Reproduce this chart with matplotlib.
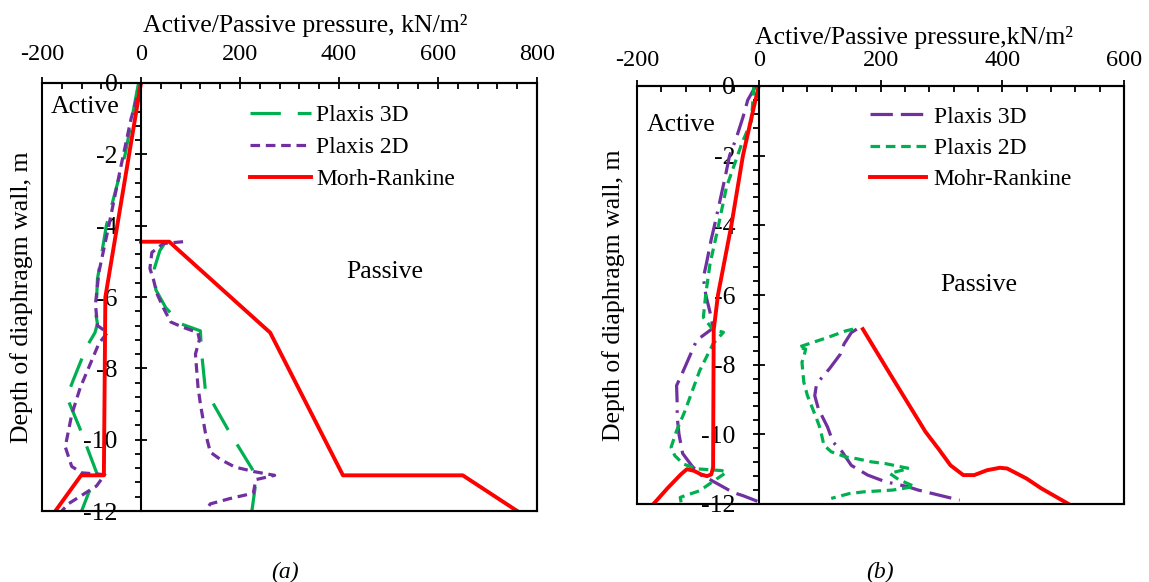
import numpy as np
import matplotlib.pyplot as plt
from matplotlib.ticker import MultipleLocator
from matplotlib.patches import Rectangle

plt.rcParams["font.family"] = "Liberation Serif"
plt.rcParams["axes.unicode_minus"] = False
plt.rcParams["font.size"] = 18.5

# ---- panel (a) ----  pressure (kN/m2) vs depth (m)
a_mr_act_x = [0, -72, -75, -121, -173]
a_mr_act_y = [0, -6, -11, -11, -12]
a_mr_pas_x = [0, 57, 261, 408, 650, 760]
a_mr_pas_y = [-4.45, -4.45, -7, -11, -11, -12]

a_3d_act_x = [-5, -32, -70, -88, -91, -88, -93, -110, -136, -150, -123, -89, -106, -120]
a_3d_act_y = [0, -2, -4, -5.5, -6.5, -6.75, -7, -7.4, -8.3, -8.8, -9.7, -10.95, -11.5, -12]
a_3d_pas_x = [50, 38, 27, 30, 50, 80, 120, 122, 130, 175, 228, 232, 224]
a_3d_pas_y = [-4.45, -4.7, -5.2, -5.8, -6.3, -6.75, -6.95, -7.5, -8.6, -9.7, -10.9, -11.2, -12]

a_2d_act_x = [0, -20, -40, -65, -85, -92, -88, -68, -85, -123, -140, -153, -140, -120, -73, -90, -147, -160]
a_2d_act_y = [0, -1, -2.3, -4, -5.3, -6.2, -6.8, -7, -7.3, -8.55, -9.3, -10.2, -10.75, -10.93, -10.98, -11.3, -11.8, -12]
a_2d_pas_x = [85, 45, 22, 18, 25, 32, 45, 60, 85, 115, 118, 110, 115, 120, 130, 140, 160, 190, 230, 270, 232, 227, 180, 140, 130]
a_2d_pas_y = [-4.45, -4.5, -4.75, -5.2, -5.5, -5.9, -6.3, -6.7, -6.85, -7.0, -7.2, -7.6, -8.5, -9.0, -9.8, -10.35, -10.55, -10.77, -10.9, -11.0, -11.12, -11.5, -11.65, -11.8, -12]

# ---- panel (b) ----
b_mr_act_x = [0, -8, -26, -45, -67, -74, -75, -78, -85, -95, -106, -118, -128, -150, -173]
b_mr_act_y = [0, -0.6, -2, -4, -6, -7, -10.95, -11.15, -11.2, -11.15, -11.05, -11.0, -11.15, -11.55, -12]
b_mr_pas_x = [171, 214, 274, 295, 315, 336, 354, 375, 396, 408, 440, 464, 509]
b_mr_pas_y = [-6.98, -8.22, -9.93, -10.41, -10.89, -11.17, -11.17, -11.03, -10.96, -10.98, -11.27, -11.55, -12]

b_3d_act_x = [-5, -18, -26, -37, -48, -55, -72, -78, -86, -91, -87, -80, -75, -102, -113, -127, -135, -134, -134, -131, -125, -110, -97, -80, -42, -26, 2]
b_3d_act_y = [0, -0.4, -0.9, -1.5, -2.0, -2.6, -3.95, -4.4, -5.1, -5.5, -6.0, -6.5, -6.95, -7.3, -7.74, -8.3, -8.6, -9.1, -9.5, -10.0, -10.55, -10.9, -11.15, -11.3, -11.67, -11.76, -11.95]
b_3d_pas_x = [161, 152, 140, 134, 116, 95, 92, 98, 113, 122, 137, 152, 179, 208, 244, 262, 330]
b_3d_pas_y = [-6.98, -7.08, -7.41, -7.7, -8.12, -8.55, -8.89, -9.27, -9.79, -10.22, -10.5, -10.89, -11.17, -11.36, -11.5, -11.6, -11.89]

b_2d_act_x = [-8, -12, -28, -53, -69, -80, -87, -91, -75, -58, -75, -97, -121, -135, -144, -138, -124, -102, -61, -53, -75, -97, -121, -129, -127]
b_2d_act_y = [0, -1, -1.66, -2.9, -4.24, -5.1, -5.97, -6.64, -7.0, -7.07, -7.4, -8.17, -9.32, -9.9, -10.37, -10.61, -10.85, -10.99, -11.04, -11.09, -11.35, -11.62, -11.76, -11.81, -12]
b_2d_pas_x = [155, 143, 113, 89, 65, 77, 74, 71, 74, 80, 95, 101, 107, 119, 143, 161, 185, 208, 247, 215, 230, 256, 220, 173, 149, 119]
b_2d_pas_y = [-6.98, -7.03, -7.22, -7.36, -7.5, -7.55, -7.79, -7.93, -8.5, -8.89, -9.55, -9.84, -10.31, -10.5, -10.65, -10.7, -10.79, -10.84, -10.98, -11.12, -11.3, -11.5, -11.6, -11.65, -11.7, -11.84]

GREEN = "#00B050"
PURPLE = "#7030A0"
RED = "#FF0000"


def style(ax, xmax, xpad):
    ax.set_xlim(-200, xmax)
    ax.set_ylim(-12, 0)
    ax.xaxis.tick_top()
    ax.xaxis.set_label_position("top")
    ax.set_xticks(np.arange(-200, xmax + 1, 200))
    ax.xaxis.set_minor_locator(MultipleLocator(40))
    ax.set_yticks(np.arange(-12, 1, 2))
    ax.yaxis.set_minor_locator(MultipleLocator(0.4))
    ax.spines["left"].set_position(("data", 0))
    for s in ax.spines.values():
        s.set_linewidth(1.5)
    ax.add_patch(Rectangle((0, 0), 1, 1, transform=ax.transAxes, fill=False,
                           lw=1.5, clip_on=False, zorder=5))
    ax.tick_params(axis="x", which="major", direction="inout", length=9, width=1.3,
                   pad=xpad, labelsize=17.5)
    ax.tick_params(axis="x", which="minor", direction="in", length=4, width=1.3)
    ax.tick_params(axis="y", which="major", direction="inout", length=8, width=1.3, pad=13)
    ax.tick_params(axis="y", which="minor", direction="out", length=4, width=1.3)


fig = plt.figure(figsize=(11.49, 5.82), dpi=100)
ax1 = fig.add_axes([42 / 1149, 1 - 511 / 582, 495 / 1149, 428 / 582])
ax2 = fig.add_axes([637 / 1149, 1 - 504 / 582, 487 / 1149, 418 / 582])

# (a)
long_dash = (0, (9.5, 5.3))
short_dash = (0, (3, 1.8))
ax1.plot(a_3d_act_x, a_3d_act_y, color=GREEN, lw=2.3, ls=long_dash, label="Plaxis 3D")
ax1.plot(a_3d_pas_x, a_3d_pas_y, color=GREEN, lw=2.3, ls=long_dash)
ax1.plot(a_2d_act_x, a_2d_act_y, color=PURPLE, lw=2.3, ls=short_dash, label="Plaxis 2D")
ax1.plot(a_2d_pas_x, a_2d_pas_y, color=PURPLE, lw=2.3, ls=short_dash)
ax1.plot(a_mr_act_x, a_mr_act_y, color=RED, lw=2.8, label="Morh-Rankine")
ax1.plot(a_mr_pas_x, a_mr_pas_y, color=RED, lw=2.8)
style(ax1, 800, 8.5)
ax1.set_xlabel("Active/Passive pressure, kN/m\u00b2")
ax1.xaxis.set_label_coords(0.531, 1.118)
ax1.set_ylabel("Depth of diaphragm wall, m")
ax1.yaxis.set_label_coords(-0.018, 0.5)
ax1.text(-182, -0.66, "Active", va="center", ha="left")
ax1.text(493, -5.29, "Passive", va="center", ha="center")
ax1.legend(loc="upper left", bbox_to_anchor=(0.42, 0.949), frameon=False, fontsize=17,
           handlelength=2.6, handletextpad=0.2, labelspacing=0.44, borderpad=0,
           borderaxespad=0)

# (b)
dash_dot = (0, (7, 2.5, 7, 2.5, 0.8, 2.5))
ax2.plot(b_3d_act_x, b_3d_act_y, color=PURPLE, lw=2.3, ls=dash_dot, label="Plaxis 3D")
ax2.plot(b_3d_pas_x, b_3d_pas_y, color=PURPLE, lw=2.3, ls=dash_dot)
ax2.plot(b_2d_act_x, b_2d_act_y, color=GREEN, lw=2.3, ls=short_dash, label="Plaxis 2D")
ax2.plot(b_2d_pas_x, b_2d_pas_y, color=GREEN, lw=2.3, ls=short_dash)
ax2.plot(b_mr_act_x, b_mr_act_y, color=RED, lw=2.8, label="Mohr-Rankine")
ax2.plot(b_mr_pas_x, b_mr_pas_y, color=RED, lw=2.8)
style(ax2, 600, 6)
ax2.set_xlabel("Active/Passive pressure,kN/m\u00b2")
ax2.xaxis.set_label_coords(0.569, 1.1)
ax2.set_ylabel("Depth of diaphragm wall, m")
ax2.yaxis.set_label_coords(-0.025, 0.5)
ax2.text(-184, -1.13, "Active", va="center", ha="left")
ax2.text(362, -5.7, "Passive", va="center", ha="center")
ax2.legend(loc="upper left", bbox_to_anchor=(0.478, 0.952), frameon=False, fontsize=17,
           handlelength=2.4, handletextpad=0.3, labelspacing=0.42, borderpad=0,
           borderaxespad=0)

fig.text(285 / 1149, 1 - 572 / 582, "(a)", ha="center", va="center", style="italic", fontsize=17)
fig.text(880 / 1149, 1 - 572 / 582, "(b)", ha="center", va="center", style="italic", fontsize=17)

fig.savefig("out.png", dpi=100)
